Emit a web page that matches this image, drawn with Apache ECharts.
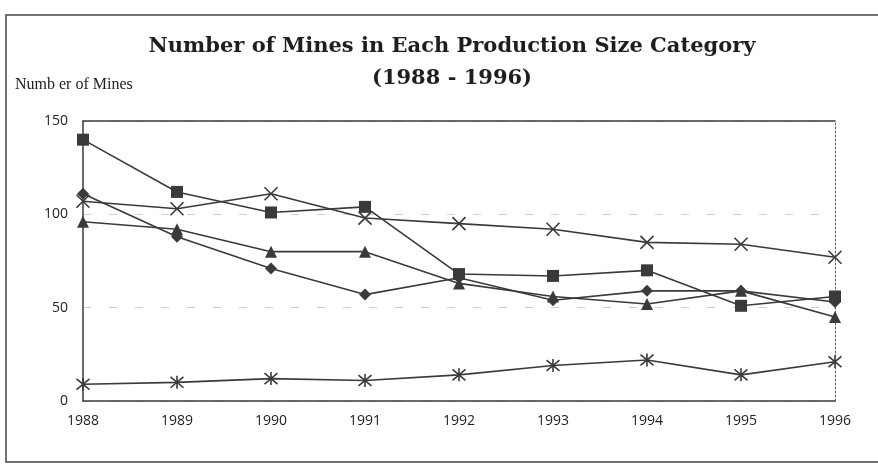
<!DOCTYPE html>
<html>
<head>
<meta charset="utf-8">
<script src="https://cdn.jsdelivr.net/npm/echarts@6/dist/echarts.min.js"></script>
<style>
  html, body { margin: 0; padding: 0; background: #fff; }
  #chart { width: 878px; height: 465px; }
</style>
</head>
<body>
<div id="chart"></div>
<script>
const years = ['1988', '1989', '1990', '1991', '1992', '1993', '1994', '1995', '1996'];

// values
const squares   = [140, 112, 101, 104, 68, 67, 70, 51, 56];
const diamonds  = [111, 88, 71, 57, 66, 54, 59, 59, 53];
const triangles = [96, 92, 80, 80, 63, 56, 52, 59, 45];
const crosses   = [107, 103, 111, 98, 95, 92, 85, 84, 77];
const stars     = [9, 10, 12, 11, 14, 19, 22, 14, 21];

const ink = '#3a3a3a';
const labelFont = 'Open Sans';

const chart = echarts.init(document.getElementById('chart'));

function filled(name, data, symbol, size) {
  return {
    name: name,
    type: 'line',
    data: data,
    symbol: symbol,
    symbolSize: size,
    lineStyle: { color: ink, width: 1.6 },
    itemStyle: { color: ink },
    z: 3
  };
}

function stroked(name, data, symbol, size) {
  return {
    name: name,
    type: 'line',
    data: data,
    symbol: symbol,
    symbolSize: size,
    lineStyle: { color: ink, width: 1.6 },
    itemStyle: { color: 'none', borderColor: ink, borderWidth: 1.6 },
    z: 3
  };
}

const option = {
  animation: false,
  title: {
    text: 'Number of Mines in Each Production Size Category\n(1988 - 1996)',
    left: 447,
    top: 26,
    textAlign: 'center',
    textStyle: {
      fontFamily: 'DejaVu Serif',
      fontWeight: 'bold',
      fontSize: 21,
      lineHeight: 32,
      color: '#1e1e1e'
    }
  },
  graphic: [
    {
      type: 'rect',
      shape: { x: 6, y: 15, width: 880, height: 447 },
      style: { fill: 'none', stroke: '#444', lineWidth: 1.5 },
      silent: true
    },
    {
      type: 'text',
      left: 15,
      top: 77,
      style: { text: 'Numb er of Mines', font: '16px "Liberation Serif"', fill: '#222' }
    }
  ],
  grid: { left: 83, right: 43, top: 121, bottom: 64 },
  xAxis: [
    {
      type: 'category',
      data: years,
      boundaryGap: false,
      axisLine: { onZero: false, lineStyle: { color: ink, width: 1.5 } },
      axisTick: { show: false },
      axisLabel: { color: '#222', fontFamily: labelFont, fontSize: 14, margin: 13 }
    },
    {
      type: 'category',
      data: years,
      boundaryGap: false,
      position: 'top',
      axisLine: { onZero: false, lineStyle: { color: ink, width: 1.5 } },
      axisTick: { show: false },
      axisLabel: { show: false }
    }
  ],
  yAxis: [
    {
      type: 'value',
      min: 0,
      max: 150,
      interval: 50,
      axisLine: { show: true, lineStyle: { color: ink, width: 1.5 } },
      axisTick: { show: false },
      axisLabel: { color: '#222', fontFamily: labelFont, fontSize: 14, margin: 15 },
      splitLine: { show: true, lineStyle: { color: '#cfcfcf', type: [8, 18], width: 1 } }
    },
    {
      type: 'value',
      min: 0,
      max: 150,
      interval: 50,
      position: 'right',
      axisLine: { show: true, lineStyle: { color: '#666', width: 1, type: [2, 2] } },
      axisTick: { show: false },
      axisLabel: { show: false },
      splitLine: { show: false }
    }
  ],
  series: [
    filled('Squares', squares, 'rect', 12),
    filled('Diamonds', diamonds, 'diamond', 12),
    filled('Triangles', triangles, 'triangle', 12),
    stroked('Crosses', crosses, 'path://M0,0L10,10M10,0L0,10', 13),
    stroked('Stars', stars, 'path://M0,0L10,10M10,0L0,10M5,-1L5,11', 13)
  ]
};

chart.setOption(option);
</script>
</body>
</html>
